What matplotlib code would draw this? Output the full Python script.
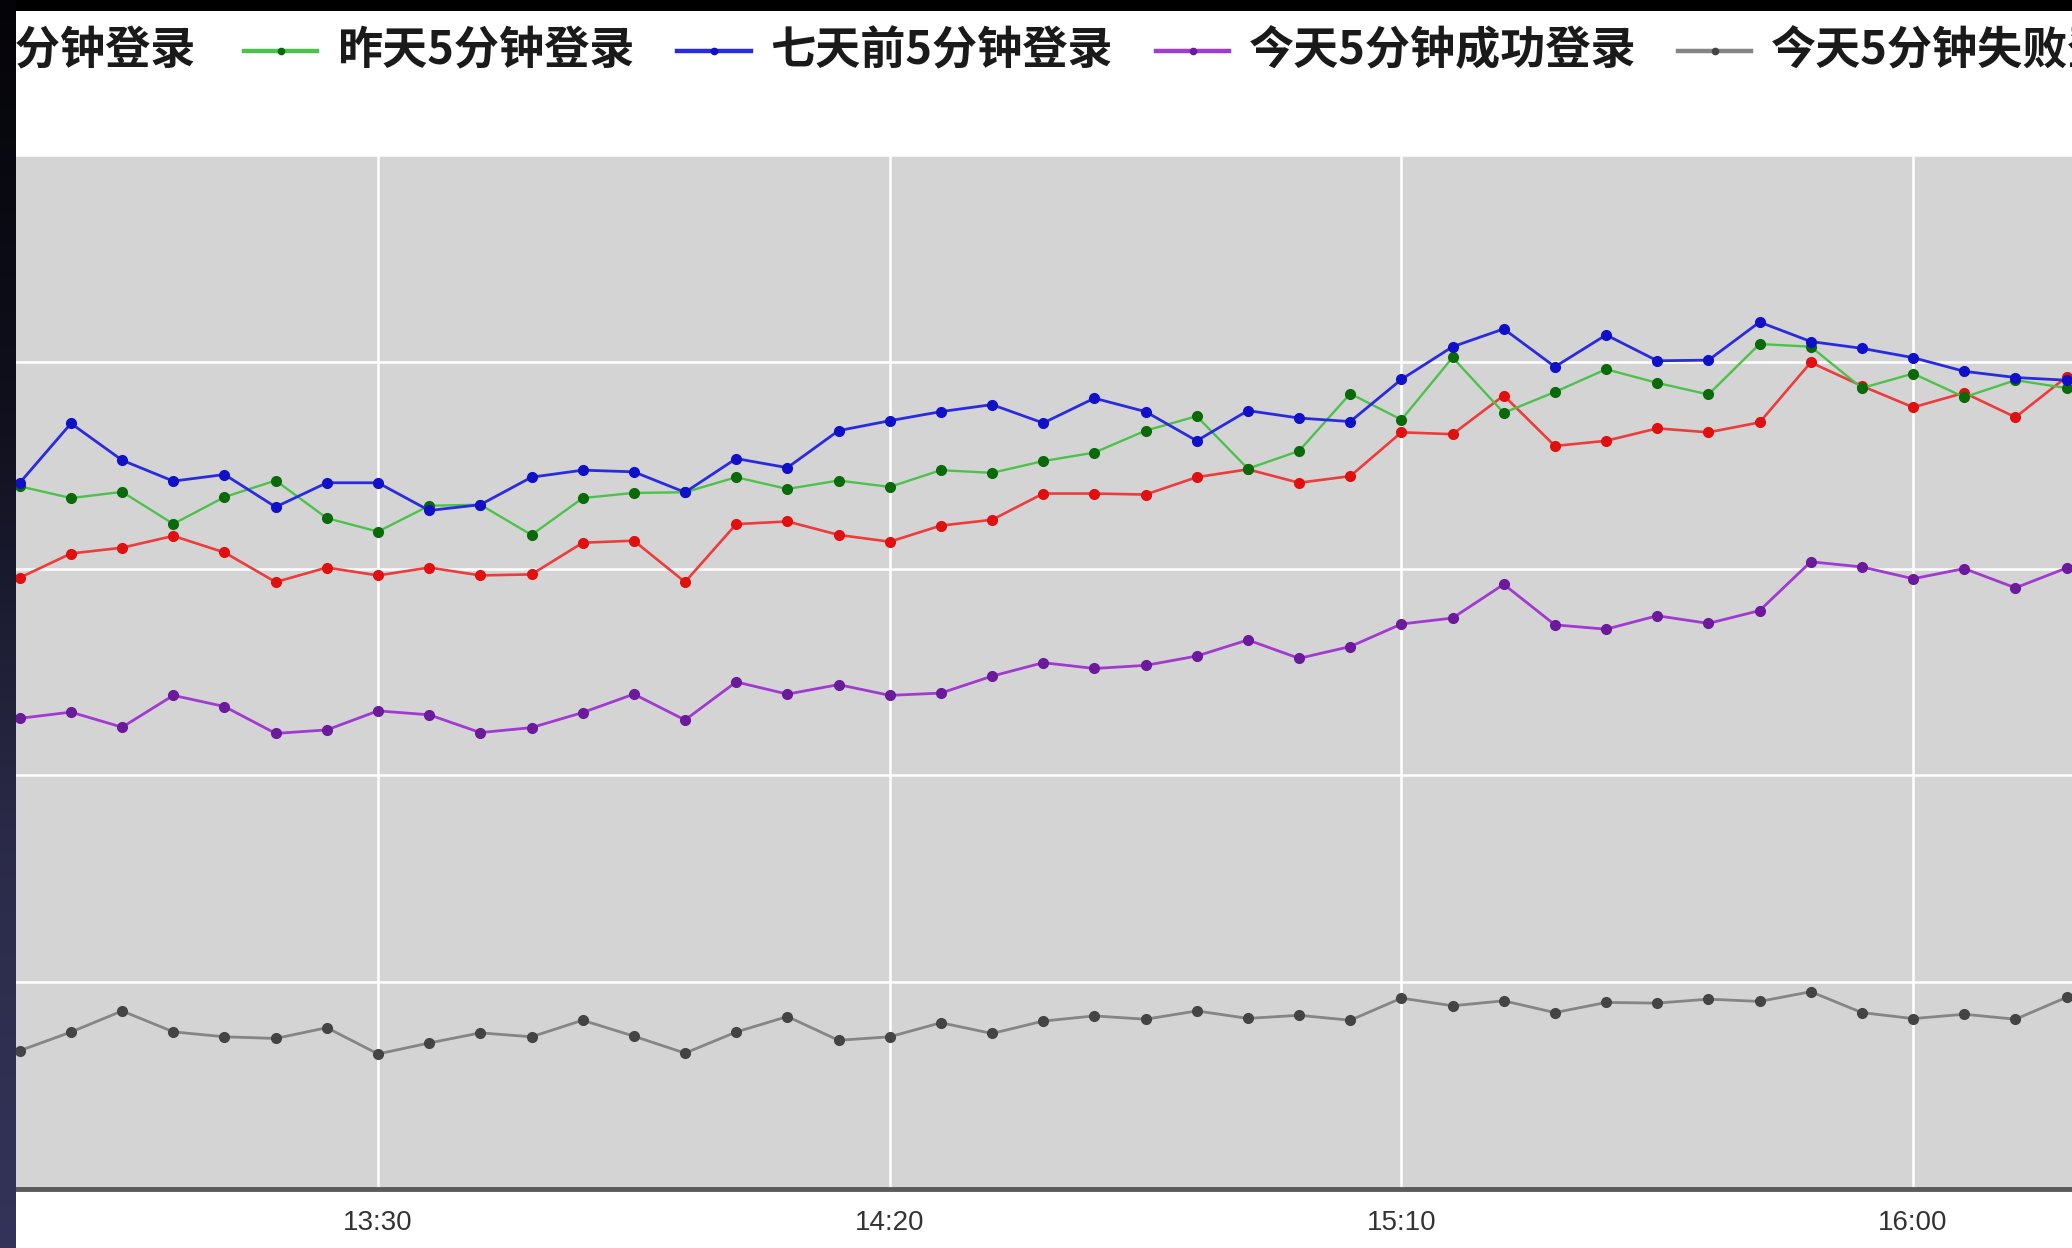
import matplotlib
matplotlib.use("Agg")
import matplotlib.pyplot as plt
from matplotlib.lines import Line2D
from matplotlib.patches import Rectangle
from matplotlib.colors import LinearSegmentedColormap
import numpy as np
import pandas as pd

# ---------------- data ----------------
start_time = "2020-01-01 12:55"
step = "5min"
n_points = 41
tick_times = ["13:30", "14:20", "15:10", "16:00"]

labels = ["今天5分钟登录", "昨天5分钟登录", "七天前5分钟登录", "今天5分钟成功登录", "今天5分钟失败登录"]

today = [295.6, 307.3, 310.1, 315.8, 307.8, 293.5, 300.5, 296.7, 300.5, 296.7, 297.2,
         312.5, 313.5, 293.5, 321.5, 322.8, 316.3, 313.0, 320.8, 323.6, 336.3,
         336.3, 335.8, 344.2, 348.0, 341.5, 344.7, 365.9, 365.0, 383.7, 359.3,
         361.8, 367.8, 365.9, 370.7, 399.7, 388.3, 378.0, 385.0, 373.2, 392.7]
yesterday = [339.8, 334.1, 337.1, 321.6, 334.6, 342.6, 324.4, 317.9, 330.4, 330.9, 316.3,
             334.1, 336.6, 336.9, 344.2, 338.5, 342.6, 339.5, 347.6, 346.3, 352.0,
             356.1, 366.7, 373.7, 348.3, 356.9, 384.6, 372.0, 402.1, 375.3, 385.4,
             396.4, 389.8, 384.2, 408.6, 407.3, 387.3, 394.3, 382.9, 391.1, 387.3]
week_ago = [341.5, 370.2, 352.4, 342.3, 345.5, 329.8, 341.5, 341.5, 328.1, 330.9, 344.2,
            347.6, 346.8, 336.9, 353.2, 348.8, 366.7, 371.5, 375.9, 379.3, 370.4,
            382.4, 375.9, 361.8, 376.4, 372.8, 371.1, 391.5, 407.3, 415.9, 397.6,
            413.0, 400.5, 400.8, 419.2, 409.8, 406.5, 402.0, 395.4, 392.4, 391.1]
success = [227.6, 230.6, 223.3, 238.7, 233.3, 220.3, 222.0, 231.2, 229.3, 220.7, 223.1,
           230.4, 239.3, 226.8, 245.2, 239.3, 243.9, 238.7, 239.8, 248.0, 254.5,
           251.7, 253.2, 257.7, 265.5, 256.6, 262.3, 273.2, 276.1, 292.4, 272.8,
           270.7, 277.2, 273.5, 279.7, 303.3, 300.8, 295.1, 300.0, 290.7, 300.3]
failed = [66.9, 75.9, 86.1, 76.0, 73.6, 72.8, 78.0, 65.3, 70.6, 75.5, 73.6,
          81.6, 73.9, 65.7, 75.9, 83.4, 71.9, 73.6, 80.4, 75.2, 81.2,
          83.7, 82.1, 86.1, 82.5, 84.0, 81.6, 92.3, 88.6, 91.0, 85.3,
          90.2, 89.9, 91.8, 90.7, 95.4, 85.3, 82.4, 84.5, 82.1, 92.7]

series = [today, yesterday, week_ago, success, failed]
line_colors = ["#ee3b3b", "#4cc24c", "#2a2ae0", "#a03ad0", "#858585"]
marker_colors = ["#e01010", "#0a6a0a", "#1010c8", "#6a1a9a", "#444444"]
line_widths = [1.9, 1.7, 2.0, 2.0, 2.0]

# ---------------- figure ----------------
W, H = 2072, 1248
fig = plt.figure(figsize=(W / 100, H / 100), dpi=100, facecolor="white")

plot_top, plot_bottom = 155, 1189
ax = fig.add_axes([0, 1 - plot_bottom / H, 1, (plot_bottom - plot_top) / H])
ax.set_facecolor("#d4d4d4")

times = pd.date_range(start_time, periods=n_points, freq=step)
for vals, lc, mc, lw in zip(series, line_colors, marker_colors, line_widths):
    ax.plot(times, vals, color=lc, lw=lw, marker="o", markersize=7,
            markerfacecolor=mc, markeredgecolor=mc, zorder=3)

dt = pd.Timedelta(step)
ax.set_xlim(times[0] - 0.387 * dt, times[0] + 40.105 * dt)
ax.set_ylim(0, 500)
ax.set_yticks([100, 200, 300, 400, 500])
ax.set_yticklabels([])
ax.tick_params(axis="y", length=0)

tick_pos = [pd.Timestamp(start_time[:10] + " " + t) for t in tick_times]
ax.set_xticks(tick_pos)
ax.set_xticklabels(tick_times, fontsize=20, color="#333333",
                   family=["Liberation Sans Narrow", "Liberation Sans", "DejaVu Sans"])
ax.tick_params(axis="x", length=0, pad=15)

ax.grid(True, color="white", lw=1.8, zorder=1)
ax.set_axisbelow(True)
for s in ["top", "left", "right"]:
    ax.spines[s].set_visible(False)
ax.spines["bottom"].set_color("#5a5a5a")
ax.spines["bottom"].set_linewidth(3.5)

# ---------------- legend (manual, cut off at both ends) ----------------
ly = 1 - 51 / H
legend_font = dict(fontsize=32.5, family=["Noto Sans CJK SC", "DejaVu Sans"],
                   weight="bold", color="#1a1a1a", va="center")
# first entry: only its text tail is visible
fig.text(196 / W, ly, labels[0], ha="right", **legend_font)
handles = [(244, 317, 337), (677, 751, 770), (1156, 1229, 1249), (1678, 1751, 1771)]
for k, (x0, x1, xt) in enumerate(handles, start=1):
    fig.add_artist(Line2D([x0 / W, x1 / W], [ly, ly], transform=fig.transFigure,
                          color=line_colors[k], lw=3.2))
    fig.add_artist(Line2D([(x0 + x1) / 2 / W], [ly], transform=fig.transFigure,
                          marker="o", markersize=4.5, color=marker_colors[k], lw=0))
    fig.text(xt / W, ly, labels[k], ha="left", **legend_font)

# ---------------- screenshot borders ----------------
fig.add_artist(Rectangle((0, 1 - 11 / H), 1, 11 / H, transform=fig.transFigure,
                         facecolor="black", edgecolor="none", zorder=20))
bax = fig.add_axes([0, 0, 16 / W, 1], zorder=21)
grad = np.linspace(0, 1, 256).reshape(-1, 1)
cmap = LinearSegmentedColormap.from_list("edge", ["#040408", "#10101e", "#2a2a48", "#34345a"])
bax.imshow(grad, aspect="auto", cmap=cmap, extent=[0, 1, 0, 1], origin="upper")
bax.axis("off")

fig.savefig("out.png", dpi=100, facecolor="white")
